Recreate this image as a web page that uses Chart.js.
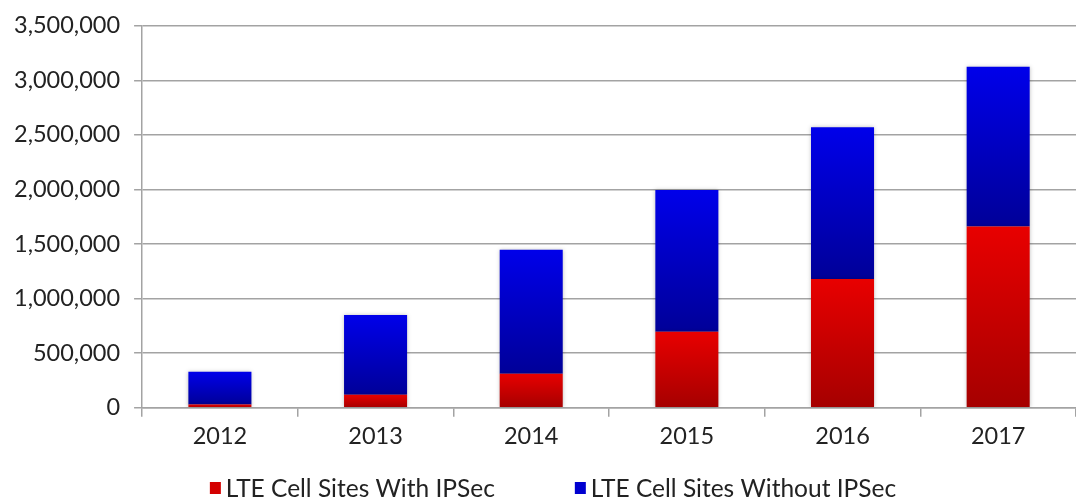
<!DOCTYPE html>
<html>
<head>
<meta charset="utf-8">
<script src="https://cdn.jsdelivr.net/npm/chart.js@4.4.1/dist/chart.umd.min.js"></script>
<style>
  html, body { margin: 0; padding: 0; background: #ffffff; }
  #wrap { width: 1076px; height: 498px; position: relative; }
</style>
</head>
<body>
<div id="wrap"><canvas id="c"></canvas></div>
<script>
const categories = ['2012', '2013', '2014', '2015', '2016', '2017'];
const withIPSec = [30000, 120000, 312000, 697000, 1180000, 1660000];
const withoutIPSec = [300000, 730000, 1135000, 1298000, 1390000, 1465000];
const seriesNames = ['LTE Cell Sites With IPSec', 'LTE Cell Sites Without IPSec'];
const yTicks = [0, 500000, 1000000, 1500000, 2000000, 2500000, 3000000, 3500000];

const FONT = 'Lato, "DejaVu Sans", sans-serif';
const GRID = '#a3a3a3';
const TEXT = '#222222';
const legendColors = ['#d40000', '#0000d0'];

function gradientFill(top, bottom, lowKey) {
  return function (ctx) {
    const chart = ctx.chart;
    const y = chart.scales.y;
    if (!y || !chart.chartArea || ctx.dataIndex === undefined) return top;
    const i = ctx.dataIndex;
    let lo, hi;
    if (lowKey === 0) { lo = 0; hi = withIPSec[i]; }
    else { lo = withIPSec[i]; hi = withIPSec[i] + withoutIPSec[i]; }
    const pTop = y.getPixelForValue(hi);
    const pBot = y.getPixelForValue(lo);
    if (!isFinite(pTop) || !isFinite(pBot) || pTop === pBot) return top;
    const g = chart.ctx.createLinearGradient(0, pTop, 0, pBot);
    g.addColorStop(0, top);
    g.addColorStop(1, bottom);
    return g;
  };
}

const shadowPlugin = {
  id: 'barShadow',
  beforeDatasetDraw(chart) {
    const c = chart.ctx;
    c.save();
    c.shadowColor = 'rgba(0,0,0,0.25)';
    c.shadowBlur = 4;
    c.shadowOffsetX = 0;
    c.shadowOffsetY = 0;
  },
  afterDatasetDraw(chart) {
    chart.ctx.restore();
  }
};

// Custom bottom legend (small square, tight gap, wide spacing between items)
const bottomLegend = {
  id: 'bottomLegend',
  afterDraw(chart) {
    const c = chart.ctx;
    const fontSize = 24.5;
    const box = 11;
    const gapBoxText = 5;
    const gapItems = 80;
    c.save();
    c.font = fontSize + 'px ' + FONT;
    const widths = seriesNames.map(t => c.measureText(t).width);
    let total = 0;
    widths.forEach((w, i) => { total += box + gapBoxText + w + (i < widths.length - 1 ? gapItems : 0); });
    let x = chart.width / 2 + 15 - total / 2;
    const yMid = chart.height - 10;
    seriesNames.forEach((t, i) => {
      c.fillStyle = legendColors[i];
      c.fillRect(x, yMid - 6, box, 12);
      c.fillStyle = TEXT;
      c.textBaseline = 'middle';
      c.textAlign = 'left';
      c.fillText(t, x + box + gapBoxText, yMid + 1);
      x += box + gapBoxText + widths[i] + gapItems;
    });
    c.restore();
  }
};

new Chart(document.getElementById('c'), {
  type: 'bar',
  data: {
    labels: categories,
    datasets: [
      {
        label: seriesNames[0],
        data: withIPSec,
        backgroundColor: gradientFill('#e80000', '#a50000', 0),
        borderWidth: 0,
        categoryPercentage: 1.0,
        barPercentage: 0.405
      },
      {
        label: seriesNames[1],
        data: withoutIPSec,
        backgroundColor: gradientFill('#0000ea', '#000098', 1),
        borderWidth: 0,
        categoryPercentage: 1.0,
        barPercentage: 0.405
      }
    ]
  },
  options: {
    responsive: true,
    maintainAspectRatio: false,
    animation: false,
    devicePixelRatio: 1,
    layout: { padding: { left: 0, right: 0, top: 0, bottom: 41 } },
    scales: {
      x: {
        stacked: true,
        offset: true,
        grid: {
          offset: true,
          drawOnChartArea: false,
          drawTicks: true,
          tickLength: 9,
          color: GRID,
          lineWidth: 1.5
        },
        border: { display: true, color: GRID, width: 1.5 },
        ticks: {
          color: TEXT,
          font: { family: FONT, size: 23.5 },
          padding: 6,
          maxRotation: 0
        }
      },
      y: {
        stacked: true,
        min: 0,
        max: 3500000,
        afterBuildTicks(axis) {
          axis.ticks = yTicks.map(v => ({ value: v }));
        },
        grid: {
          color: GRID,
          lineWidth: 1.5,
          drawTicks: true,
          tickLength: 8
        },
        border: { display: true, color: GRID, width: 1.5 },
        ticks: {
          color: TEXT,
          font: { family: FONT, size: 23.5, lineHeight: 1.0 },
          padding: 14,
          callback: v => Number(v).toLocaleString('en-US')
        }
      }
    },
    plugins: {
      legend: { display: false },
      tooltip: { enabled: false }
    }
  },
  plugins: [shadowPlugin, bottomLegend]
});
</script>
</body>
</html>
